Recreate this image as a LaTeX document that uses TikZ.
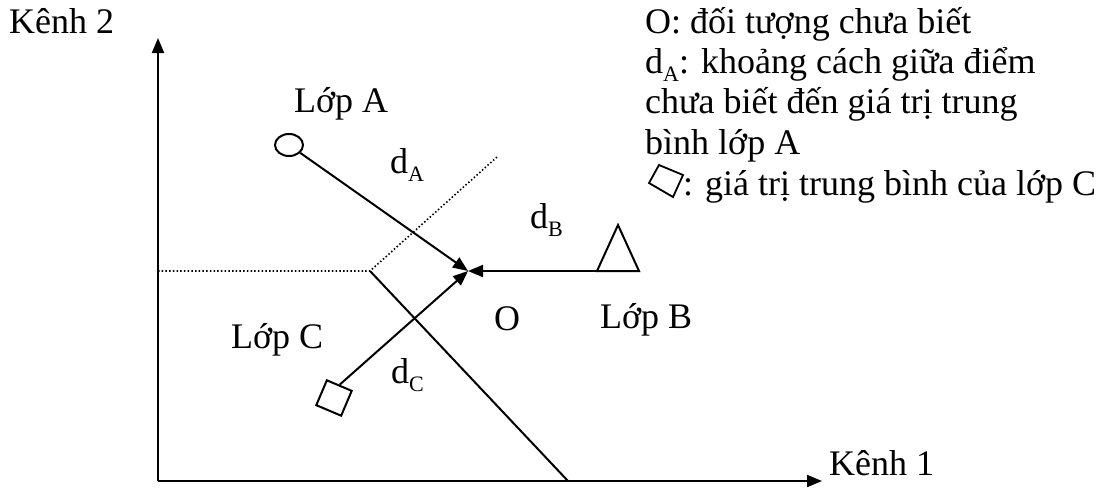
\documentclass[tikz,border=0pt]{standalone}
\usepackage{fontspec}
\setmainfont{Liberation Serif}
\usetikzlibrary{arrows.meta,shapes.geometric}
\newcommand{\sbs}[1]{\raisebox{-8pt}{\fontsize{22}{22}\selectfont #1}}
\begin{document}
\begin{tikzpicture}[x=1pt,y=-1pt,
  txt/.style={anchor=base west,inner sep=0pt,font=\fontsize{36}{40}\selectfont},
  ln/.style={line width=2pt},
  arr/.style={line width=2pt,-{Triangle[length=15pt,width=12pt]}},
  dot/.style={line width=1.6pt,dash pattern=on 1.5pt off 2.2pt}]
\useasboundingbox (0,0) rectangle (1102,488);
% axes
\coordinate (orig) at (158,481);
\coordinate (ytip) at (158,38);
\coordinate (xtip) at (822,481);
\draw[arr] (orig) -- (ytip);
\draw[arr] (orig) -- (xtip);
% boundaries
\coordinate (yb) at (158,271);
\coordinate (junc) at (370,271);
\coordinate (dend) at (497,157);
\coordinate (send) at (568,481);
\draw[dot] (yb) -- (junc) -- (dend);
\draw[ln] (junc) -- (send);
% unknown point
\coordinate (O) at (468,271);
% class A mean
\node[draw,ellipse,line width=2pt,minimum width=28pt,minimum height=22pt,inner sep=0pt] (cA) at (289,145) {};
\draw[arr] (cA.-35) -- (O);
% class B mean (triangle)
\coordinate (tri) at (597,271);
\coordinate (triR) at (639,271);
\coordinate (triT) at (618,225);
\draw[ln,line join=miter] (tri) -- (triT) -- (triR) -- cycle;
\draw[arr] (tri) -- (O);
% class C mean (square)
\node[draw,rectangle,line width=2pt,minimum size=27pt,inner sep=0pt,rotate=-23] (cC) at (334,398) {};
\draw[arr] (cC.north) -- (O);
% labels
\node[txt] (k2) at (9,33) {Kênh 2};
\node[txt] (k1) at (829,475) {Kênh 1};
\node[txt] (lA) at (294,112) {Lớp A};
\node[txt] (lB) at (600,328) {Lớp B};
\node[txt] (lC) at (231,348) {Lớp C};
\node[txt] (lO) at (494,330) {O};
\node[txt] (dA) at (390,173) {d\sbs{A}};
\node[txt] (dB) at (530,228) {d\sbs{B}};
\node[txt] (dC) at (391,383) {d\sbs{C}};
% legend
\node[txt] (g1) at (645,33) {O: đối tượng chưa biết};
\node[txt] (g2) at (645,73) {d\sbs{A}: khoảng cách giữa điểm};
\node[txt] (g3) at (645,113) {chưa biết đến giá trị trung};
\node[txt] (g4) at (645,154) {bình lớp A};
\draw[line width=1.8pt] (649,183) -- (659,165) -- (683,175) -- (673,197) -- cycle;
\node[txt] (g5) at (683,195) {: giá trị trung bình của lớp C};
\end{tikzpicture}
\end{document}
